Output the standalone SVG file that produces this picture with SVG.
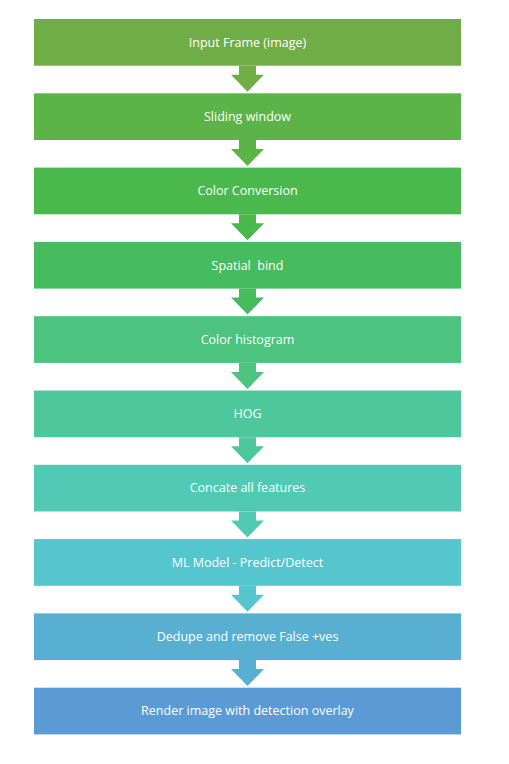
<svg xmlns="http://www.w3.org/2000/svg" width="509" height="764" viewBox="0 0 509 764">
<style>
.t{font-family:"Open Sans","Liberation Sans",sans-serif;font-size:12.5px;fill:#fff;text-anchor:middle}
</style>
<defs>
<polygon id="arr" points="239,0 256,0 256,9 264,9 247.5,26 231,9 239,9"/>
<rect id="box" x="34" y="0" width="427" height="46.7"/>
</defs>
<rect width="509" height="764" fill="#fff"/>
<g id="connectors">
<use href="#arr" transform="translate(0,65.7)" fill="#70AD47"/>
<use href="#arr" transform="translate(0,140)" fill="#5CB348"/>
<use href="#arr" transform="translate(0,214.3)" fill="#4AB84C"/>
<use href="#arr" transform="translate(0,288.6)" fill="#47BC5E"/>
<use href="#arr" transform="translate(0,362.9)" fill="#4CC37F"/>
<use href="#arr" transform="translate(0,437.2)" fill="#4FC79C"/>
<use href="#arr" transform="translate(0,511.5)" fill="#52C9B5"/>
<use href="#arr" transform="translate(0,585.8)" fill="#55C6CD"/>
<use href="#arr" transform="translate(0,660.1)" fill="#59AFD2"/>
</g>
<g id="n1"><use href="#box" y="19" fill="#70AD47"/><text class="t" x="247.5" y="46.6">Input Frame (image)</text></g>
<g id="n2"><use href="#box" y="93.3" fill="#5CB348"/><text class="t" x="247.5" y="120.9">Sliding window</text></g>
<g id="n3"><use href="#box" y="167.6" fill="#4AB84C"/><text class="t" x="247.5" y="195.2">Color Conversion</text></g>
<g id="n4"><use href="#box" y="241.9" fill="#47BC5E"/><text class="t" x="247.5" y="269.5" xml:space="preserve">Spatial  bind</text></g>
<g id="n5"><use href="#box" y="316.2" fill="#4CC37F"/><text class="t" x="247.5" y="343.8">Color histogram</text></g>
<g id="n6"><use href="#box" y="390.5" fill="#4FC79C"/><text class="t" x="247.5" y="418.1">HOG</text></g>
<g id="n7"><use href="#box" y="464.8" fill="#52C9B5"/><text class="t" x="247.5" y="492.4">Concate all features</text></g>
<g id="n8"><use href="#box" y="539.1" fill="#55C6CD"/><text class="t" x="247.5" y="566.7">ML Model - Predict/Detect</text></g>
<g id="n9"><use href="#box" y="613.4" fill="#59AFD2"/><text class="t" x="247.5" y="641">Dedupe and remove False +ves</text></g>
<g id="n10"><use href="#box" y="687.7" fill="#5B9AD5"/><text class="t" x="247.5" y="715.3">Render image with detection overlay</text></g>
</svg>
